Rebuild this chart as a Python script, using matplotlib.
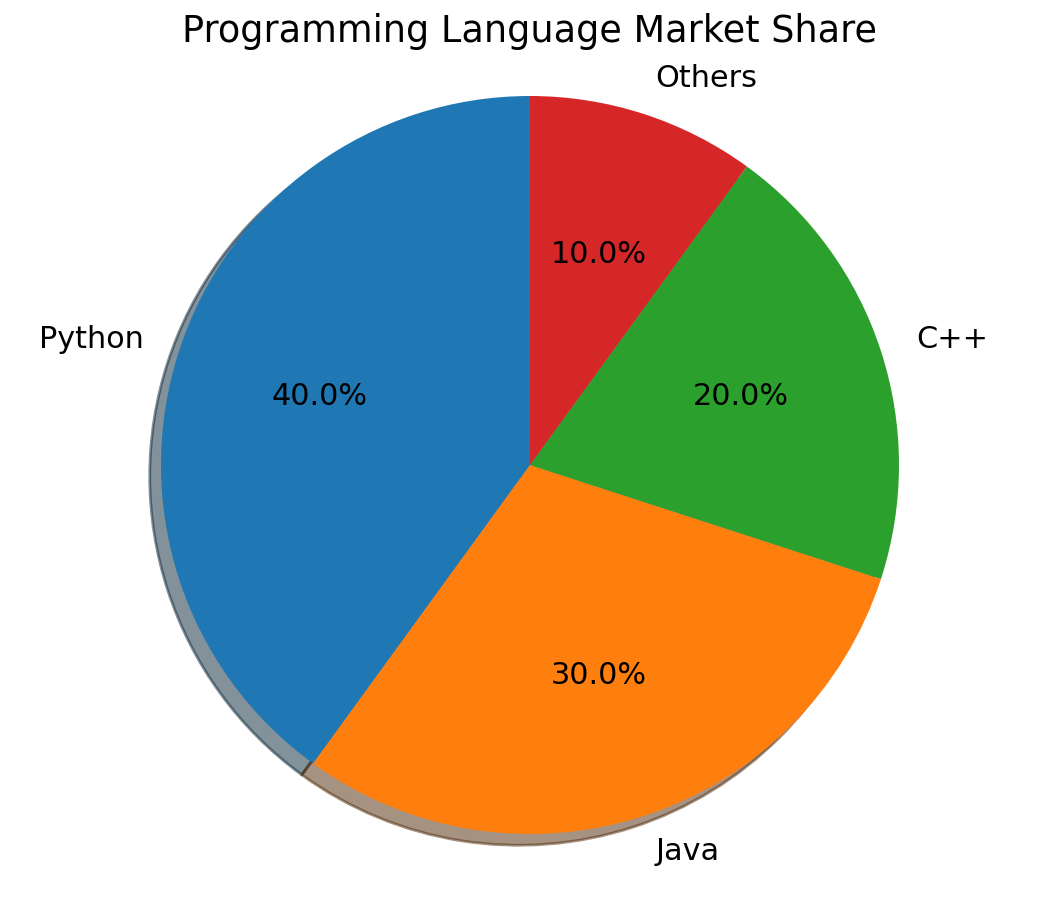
import matplotlib
matplotlib.use("Agg")
import matplotlib.pyplot as plt

labels = ["Python", "Java", "C++", "Others"]
shares = [40, 30, 20, 10]

W, H, DPI = 1063, 898, 200
fig = plt.figure(figsize=(W / DPI, H / DPI), dpi=DPI)
fig.patch.set_facecolor("white")

L = 1.2
R_px = 369
S = 2 * L * R_px
cx, cy = 530, 465
ax = fig.add_axes([(cx - S / 2) / W, (H - cy - S / 2) / H, S / W, S / H])
ax.pie(shares, labels=labels, autopct="%1.1f%%", startangle=90,
       shadow={"ox": -0.011, "oy": -0.011},
       textprops={"fontsize": 10.9})
ax.set_xlim(-L, L)
ax.set_ylim(-L, L)
ax.set_aspect("equal")
ax.axis("off")

fig.text(cx / W, 1 - 32 / H, "Programming Language Market Share", ha="center", va="center", fontsize=13.2)

fig.savefig("out.png", dpi=DPI)
